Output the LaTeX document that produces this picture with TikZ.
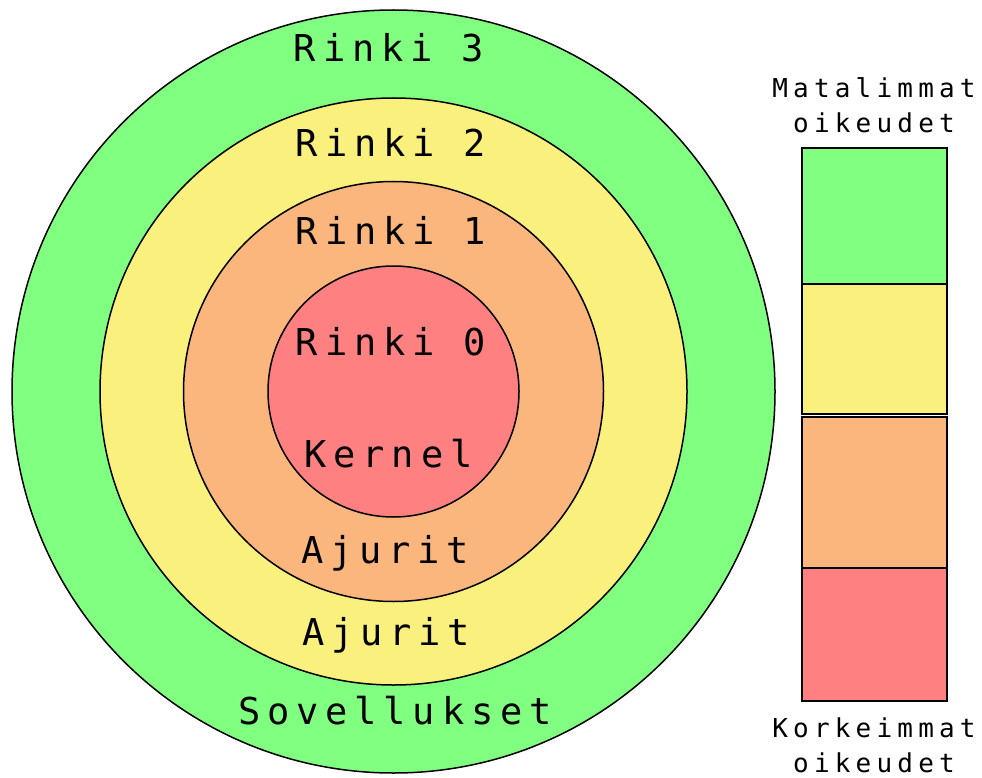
\documentclass[tikz,border=0pt]{standalone}
\usepackage{fontspec}
\newfontfamily\ringfont[LetterSpace=18.5]{DejaVu Sans Mono}
\newfontfamily\sidefont[LetterSpace=20]{DejaVu Sans Mono}
\definecolor{ringgreen}{RGB}{128,255,128}
\definecolor{ringyellow}{RGB}{250,240,125}
\definecolor{ringorange}{RGB}{250,182,125}
\definecolor{ringred}{RGB}{255,128,128}
\begin{document}
\begin{tikzpicture}[x=1pt,y=-1pt,
  ring/.style={draw=black,line width=1.5pt},
  bar/.style={draw=black,line width=2pt},
  ringlabel/.style={anchor=base,inner sep=0pt,font=\ringfont\fontsize{37}{40}\selectfont},
  sidelabel/.style={anchor=base,inner sep=0pt,font=\sidefont\fontsize{26}{30}\selectfont}]
\useasboundingbox (0,0) rectangle (982,778);
% rings
\coordinate (c) at (393.5,391.5);
\draw[ring,fill=ringgreen] (c) circle[radius=381.5];
\draw[ring,fill=ringyellow] (c) circle[radius=293.5];
\draw[ring,fill=ringorange] (c) circle[radius=210];
\draw[ring,fill=ringred] (c) circle[radius=125.5];
% ring labels
\node[ringlabel] (r3) at (389,62) {Rinki 3};
\node[ringlabel] (r2) at (391,157) {Rinki 2};
\node[ringlabel] (r1) at (391,244) {Rinki 1};
\node[ringlabel] (r0) at (391,355) {Rinki 0};
\node[ringlabel] (kern) at (388.5,467) {Kernel};
\node[ringlabel] (aj1) at (385,563) {Ajurit};
\node[ringlabel] (aj2) at (386,645) {Ajurit};
\node[ringlabel] (sov) at (395,724) {Sovellukset};
% privilege bar
\draw[bar,fill=ringgreen] (802,148) rectangle (947,283.5);
\draw[bar,fill=ringyellow] (802,283.5) rectangle (947,413.5);
\draw[bar,fill=ringorange] (802,416.5) rectangle (947,568);
\draw[bar,fill=ringred] (802,568) rectangle (947,701);
% side labels
\node[sidelabel] (low1) at (874,98) {Matalimmat};
\node[sidelabel] (low2) at (874,133) {oikeudet};
\node[sidelabel] (high1) at (874,737) {Korkeimmat};
\node[sidelabel] (high2) at (874,772) {oikeudet};
\end{tikzpicture}
\end{document}
